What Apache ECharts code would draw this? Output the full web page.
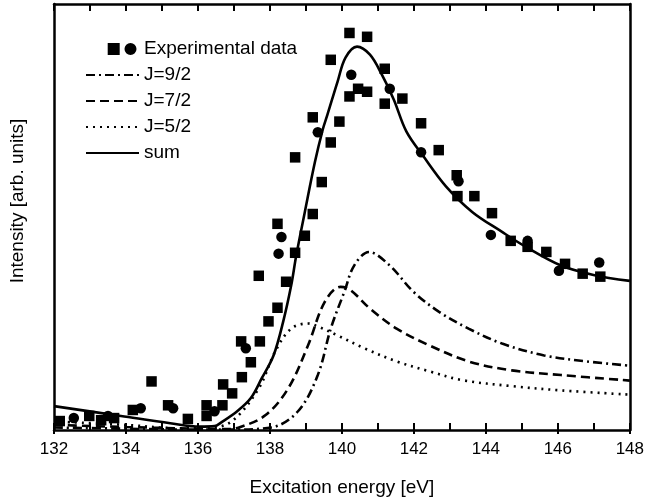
<!DOCTYPE html>
<html>
<head>
<meta charset="utf-8">
<script src="https://cdn.jsdelivr.net/npm/echarts@6/dist/echarts.min.js"></script>
<style>html,body{margin:0;padding:0;background:#fff;}#c{width:647px;height:502px;}</style>
</head>
<body>
<div id="c"></div>
<script>
// ---- data ----
const xMin = 132, xMax = 148, xStep = 2;
const yMin = 0, yMax = 100;

const squareData = [
  [132.16,2.1],[132.98,3.3],[133.31,2.3],[133.67,2.8],[134.19,4.7],[134.71,11.4],[135.17,5.8],
  [135.72,2.6],[136.24,5.8],[136.24,3.3],[136.68,5.8],[136.70,10.7],[136.95,8.6],
  [137.22,12.4],[137.47,15.9],[137.20,20.8],[137.72,20.8],[137.96,25.5],[138.21,28.7],
  [138.45,34.8],[137.69,36.2],[138.21,48.4],[138.70,41.6],[138.97,45.6],[139.19,50.7],
  [139.44,58.2],[138.70,64.0],[139.19,73.4],[139.69,67.5],[139.93,72.4],[139.69,86.9],
  [140.21,93.2],[140.70,92.3],[140.21,78.3],[140.45,80.1],[140.70,79.4],[141.19,84.8],
  [141.19,76.6],[141.68,77.8],[142.20,72.0],[142.69,65.7],[143.19,59.8],[143.21,54.9],
  [143.68,54.9],[144.17,50.9],[144.69,44.4],[145.16,43.0],[145.68,41.8],[146.20,39.0],
  [146.69,36.7],[147.18,36.0]
];
const circleData = [
  [132.55,2.8],[133.50,3.3],[134.41,5.1],[135.31,5.1],[136.46,4.4],[137.33,19.2],
  [138.24,41.4],[138.32,45.3],[139.33,69.9],[140.26,83.4],[141.33,80.1],[142.20,65.2],
  [143.24,58.4],[144.14,45.8],[145.16,44.4],[146.03,37.4],[147.15,39.3]
];
const j92Data = [
  [132,0.6],[134,0.3],[136.0,0.1],[136.87,0.1],[138.04,0.6],[138.78,4.4],[139.33,12.9],
  [139.69,23.8],[140.07,32.5],[140.34,38.6],[140.75,41.8],[141.33,38.6],[141.98,32.5],
  [142.69,27.8],[143.52,23.8],[144.45,20.3],[145.62,17.5],[146.80,16.1],[148.0,15.1]
];
const j72Data = [
  [132,1.2],[134,0.7],[136.0,0.3],[136.73,0.2],[137.14,0.6],[137.88,3.5],[138.51,9.8],
  [139.06,19.9],[139.52,30.0],[139.96,33.6],[140.23,32.9],[140.78,28.5],[141.52,23.8],
  [142.42,19.9],[143.52,16.1],[144.72,14.0],[146.09,12.9],[148.0,11.6]
];
const j52Data = [
  [132,2.0],[134,1.2],[135.5,0.4],[136.32,0.5],[136.95,2.1],[137.69,9.8],[138.15,18.5],
  [138.59,23.8],[139.06,25.0],[139.33,24.3],[139.88,22.2],[140.62,19.2],[141.52,16.1],
  [142.42,13.8],[143.35,11.7],[144.72,10.3],[146.09,9.3],[148.0,8.3]
];
const sumData = [
  [132.00,5.6],[133.86,3.3],[135.23,1.6],[136.05,0.8],[136.46,0.9],[136.65,1.8],
  [137.09,4.4],[137.47,7.5],[137.77,12.1],[138.10,17.5],[138.37,25.5],[138.59,33.9],
  [138.73,40.9],[138.97,51.2],[139.25,62.9],[139.47,70.6],[139.60,74.1],[139.88,81.8],
  [140.10,87.4],[140.42,90.0],[140.78,88.1],[141.11,83.4],[141.44,77.6],[141.79,70.1],
  [142.26,64.3],[142.89,57.2],[143.62,51.2],[144.45,46.5],[145.07,43.2],[146.09,38.6],
  [146.99,36.4],[148.00,35.0]
];
const names = ['Experimental data','J=9/2','J=7/2','J=5/2','sum'];
const xTitle = 'Excitation energy [eV]';
const yTitle = 'Intensity [arb. units]';

// ---- chart ----
const FONT = "'Liberation Sans', Arial, Helvetica, sans-serif";
const chart = echarts.init(document.getElementById('c'), null, {renderer:'canvas'});
const lw = 2.6;
function lineSeries(name, data, type){
  return {
    name: name, type: 'line', data: data, symbol: 'none', showSymbol: false, smooth: 0.35,
    xAxisIndex: 0, yAxisIndex: 0,
    lineStyle: {color:'#000', width: lw, type: type}, itemStyle:{color:'#000'},
    z: 3, animation: false
  };
}
const hideSym = {opacity: 0, color: 'rgba(0,0,0,0)', borderWidth: 0};
chart.setOption({
  animation: false,
  backgroundColor: '#fff',
  textStyle: {fontFamily: FONT, color:'#000'},
  grid: {left: 52, right: 10, top: 4, bottom: 70, containLabel: false},
  legend: {
    orient: 'vertical', left: 80, top: 34, itemWidth: 53, itemHeight: 12, itemGap: 6,
    textStyle: {fontFamily: FONT, fontSize: 19, color:'#000', lineHeight: 20},
    data: [
      {name: names[0], icon: 'path://M-16,5L-16,5.01Z M0,0H10V10H0Z M14,5A5,5,0,1,0,24,5A5,5,0,1,0,14,5Z'},
      {name: names[1], itemStyle: hideSym},
      {name: names[2], itemStyle: hideSym},
      {name: names[3], itemStyle: hideSym},
      {name: names[4], itemStyle: hideSym}
    ],
    selectedMode: false
  },
  xAxis: [
    {type:'value', position:'bottom', min:xMin, max:xMax, interval:xStep,
     name: xTitle, nameLocation:'middle', nameGap: 48,
     nameTextStyle:{fontFamily:FONT, fontSize:19, color:'#000'},
     axisLine:{show:true, onZero:false, lineStyle:{color:'#000', width:2.5}},
     axisTick:{show:true, inside:true, length:7, lineStyle:{color:'#000', width:2}},
     minorTick:{show:true, splitNumber:2, length:7, lineStyle:{color:'#000', width:2}},
     axisLabel:{fontFamily:FONT, fontSize:17, color:'#000', margin:11},
     splitLine:{show:false}},
    {type:'value', position:'top', min:xMin, max:xMax, interval:1,
     axisLine:{show:true, onZero:false, lineStyle:{color:'#000', width:2.5}},
     axisTick:{show:true, inside:true, length:7, lineStyle:{color:'#000', width:2}},
     axisLabel:{show:false}, splitLine:{show:false}},
    {type:'value', position:'bottom', min:xMin, max:xMax, interval:xStep,
     axisLine:{show:false, onZero:false},
     axisTick:{show:true, inside:false, length:4, lineStyle:{color:'#000', width:2}},
     axisLabel:{show:false}, splitLine:{show:false}}
  ],
  yAxis: [
    {type:'value', position:'left', min:yMin, max:yMax,
     name: yTitle, nameLocation:'middle', nameGap: 27, nameRotate: 90,
     nameTextStyle:{fontFamily:FONT, fontSize:19, color:'#000', padding:[0,0,0,32]},
     axisLine:{show:true, onZero:false, lineStyle:{color:'#000', width:2.5}},
     axisTick:{show:false}, axisLabel:{show:false}, splitLine:{show:false}},
    {type:'value', position:'right', min:yMin, max:yMax,
     axisLine:{show:true, onZero:false, lineStyle:{color:'#000', width:2.5}},
     axisTick:{show:false}, axisLabel:{show:false}, splitLine:{show:false}}
  ],
  series: [
    {name:names[0], type:'scatter', data:squareData, symbol:'rect', symbolSize:10.5,
     itemStyle:{color:'#000', opacity:1}, z:4},
    {name:names[0], type:'scatter', data:circleData, symbol:'circle', symbolSize:10.5,
     itemStyle:{color:'#000', opacity:1}, z:4},
    lineSeries(names[1], j92Data, [9,4,2,4]),
    lineSeries(names[2], j72Data, [9,5]),
    lineSeries(names[3], j52Data, [2,5]),
    lineSeries(names[4], sumData, 'solid')
  ]
});
</script>
</body>
</html>
